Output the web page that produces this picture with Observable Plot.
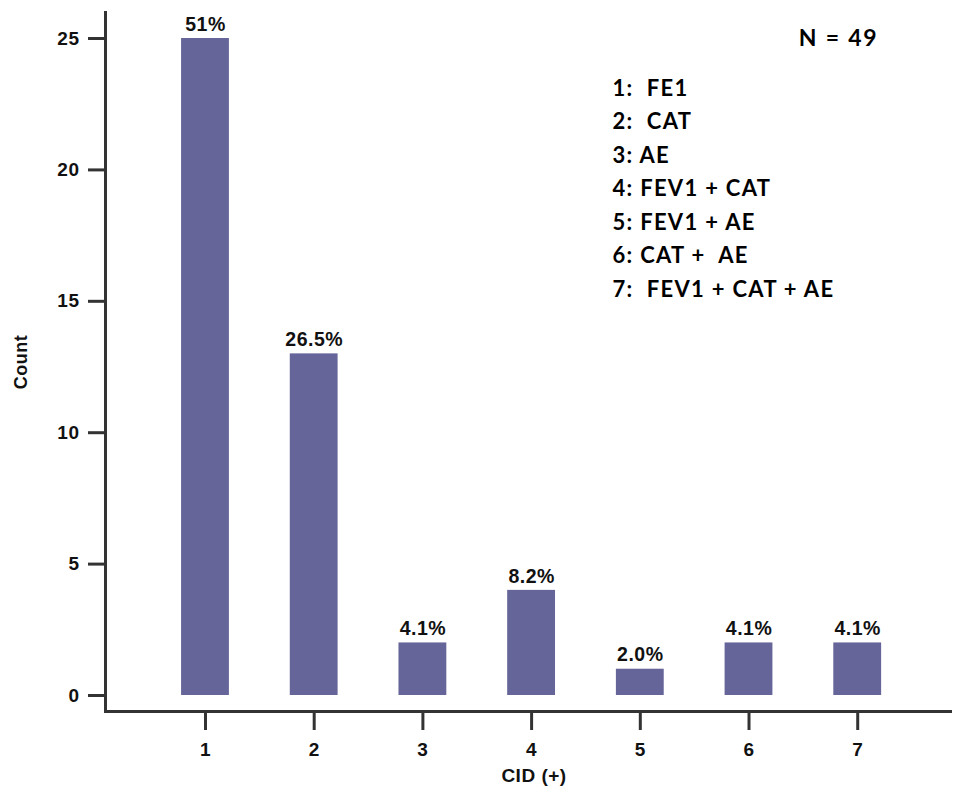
<!DOCTYPE html>
<html>
<head>
<meta charset="utf-8">
<script src="https://cdn.jsdelivr.net/npm/d3@7"></script>
<script src="https://cdn.jsdelivr.net/npm/@observablehq/plot@0.6"></script>
<style>
  html, body { margin: 0; padding: 0; background: #fff; }
  svg text { white-space: pre; letter-spacing: 0.5px; }
  svg g.legend-text text { letter-spacing: 1.3px; }
  svg g.note-text text { letter-spacing: 1.8px; }
</style>
</head>
<body>
<div id="chart"></div>
<script>
const categories = [1, 2, 3, 4, 5, 6, 7];
const counts = [25, 13, 2, 4, 1, 2, 2];
const percentLabels = ["51%", "26.5%", "4.1%", "8.2%", "2.0%", "4.1%", "4.1%"];
const yTicks = [0, 5, 10, 15, 20, 25];
const legendLines = [
  "1:  FE1",
  "2:  CAT",
  "3: AE",
  "4: FEV1 + CAT",
  "5: FEV1 + AE",
  "6: CAT +  AE",
  "7:  FEV1 + CAT + AE"
];
const sampleNote = "N = 49";
const xTitle = "CID (+)";
const yTitle = "Count";

const data = categories.map((c, i) => ({cat: c, count: counts[i], pct: percentLabels[i]}));

const axisColor = "#333";
const barColor = "#65659a";
const arial = "'Liberation Sans', Arial, sans-serif";
const calibri = "Lato, 'Open Sans', sans-serif";

const chart = Plot.plot({
  width: 958,
  height: 791,
  marginLeft: 105,
  marginTop: 12,
  marginBottom: 80,
  marginRight: 8,
  style: {fontFamily: arial, color: "#111", background: "#fff"},
  x: {type: "band", domain: categories, range: [120.2, 942], padding: 0.56, round: false},
  y: {domain: [-0.609, 25.99], range: [711, 12]},
  marks: [
    Plot.barY(data, {x: "cat", y: "count", fill: barColor}),
    Plot.text(data, {x: "cat", y: "count", text: "pct", dy: -14, lineAnchor: "middle", fontSize: 19.5, fontWeight: "bold", fill: "#111"}),
    Plot.axisY(yTicks, {tickSize: 17, tickPadding: 9, fontSize: 19, fontWeight: "bold", stroke: axisColor, strokeWidth: 3, label: null}),
    Plot.axisX({tickSize: 19, tickPadding: 12, fontSize: 19, fontWeight: "bold", stroke: axisColor, strokeWidth: 3, label: null}),
    Plot.frame({anchor: "left", stroke: axisColor, strokeWidth: 3}),
    Plot.frame({anchor: "bottom", stroke: axisColor, strokeWidth: 3}),
    Plot.text([xTitle], {frameAnchor: "bottom", lineAnchor: "middle", textAnchor: "middle", dx: 6, dy: 64, fontSize: 19, fontWeight: "bold", fill: "#111"}),
    Plot.text([yTitle], {frameAnchor: "left", lineAnchor: "middle", textAnchor: "middle", dx: -84, dy: 0, rotate: -90, fontSize: 18, fontWeight: "bold", fill: "#111"}),
    Plot.text([sampleNote], {frameAnchor: "top-right", lineAnchor: "middle", dx: -72, dy: 26, textAnchor: "end", fontSize: 23, fontWeight: "bold", fontFamily: calibri, fill: "#000", className: "note-text"}),
    Plot.text([legendLines.join("\n")], {frameAnchor: "top-left", dx: 507, dy: 59.5, lineAnchor: "top", textAnchor: "start", lineHeight: 1.523, fontSize: 22, fontWeight: "bold", fontFamily: calibri, fill: "#000", className: "legend-text"})
  ]
});
document.getElementById("chart").appendChild(chart);
</script>
</body>
</html>
